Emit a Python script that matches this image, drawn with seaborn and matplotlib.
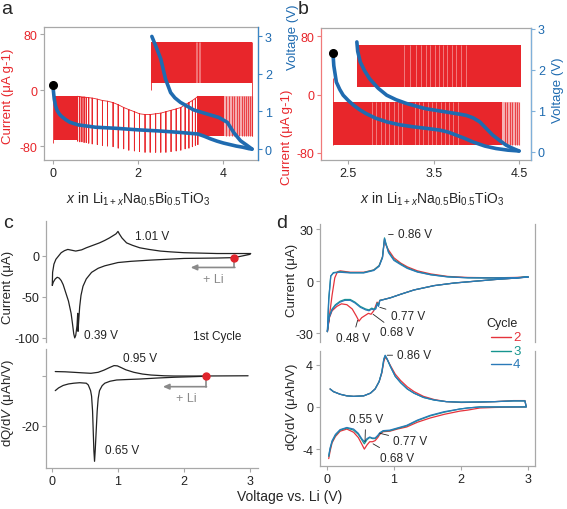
import numpy as np
import seaborn as sns
import matplotlib.pyplot as plt
from matplotlib.lines import Line2D

sns.set_style("ticks")
plt.rcParams['font.family'] = ['Liberation Sans', 'DejaVu Sans']
plt.rcParams['mathtext.fontset'] = 'custom'
plt.rcParams['mathtext.rm'] = 'Liberation Sans'
plt.rcParams['mathtext.it'] = 'Liberation Sans:italic'
plt.rcParams['font.size'] = 9
plt.rcParams['axes.unicode_minus'] = False

RED = '#e8262b'
BLUE = '#1f6bb0'
GREY = '#a8a8a8'
INK = '#222222'
CYC_COLORS = {'2': '#e5333c', '3': '#16958f', '4': '#2a7ab8'}

# ---------------- panel a data ----------------
a_vdis_x = [0, 0.01, 0.03, 0.06, 0.1, 0.15, 0.2, 0.3, 0.4, 0.6, 0.8, 1.0, 1.5, 2.0, 2.5, 3.0, 3.4, 3.55, 3.7, 3.85, 4.0, 4.15, 4.3, 4.45, 4.6, 4.67]
a_vdis_v = [1.71, 1.55, 1.33, 1.15, 1.02, 0.93, 0.87, 0.78, 0.71, 0.64, 0.61, 0.58, 0.55, 0.51, 0.48, 0.44, 0.40, 0.34, 0.27, 0.21, 0.16, 0.12, 0.08, 0.05, 0.01, 0.0]
a_vchg_x = [4.67, 4.55, 4.4, 4.24, 4.09, 3.89, 3.62, 3.3, 2.99, 2.86, 2.76, 2.64, 2.53, 2.41, 2.32]
a_vchg_v = [0.0, 0.1, 0.22, 0.44, 0.71, 0.84, 0.93, 1.04, 1.24, 1.36, 1.5, 1.86, 2.39, 2.74, 2.99]

a_pulse_x = [0.58, 0.63, 0.68, 0.73, 0.78, 0.84, 0.92, 1.04, 1.16, 1.28, 1.41, 1.53, 1.66, 1.78, 1.91,
             2.03, 2.16, 2.28, 2.41, 2.53, 2.65, 2.77, 2.89, 3.0, 3.1, 3.19, 3.27, 3.34, 3.4]
a_pulse_top = [-9, -9.5, -10, -10, -10.5, -11, -11.5, -13, -15, -16, -18, -21, -25, -28, -31,
               -34, -35, -35, -34, -33, -31, -29, -27, -25, -21, -18, -15, -12, -9]
a_pulse_bot = [-73, -74, -74, -75, -75, -76, -77, -78, -79, -80, -81, -83, -84, -86, -87,
               -88, -89, -89, -89, -89, -89, -88, -87, -86, -84, -83, -81, -79, -78]
a_dis_band1 = (0.02, 0.56, -9, -72)
a_dis_band2 = (3.4, 4.02, -9, -66)
a_tail_x = [4.07, 4.13, 4.19, 4.25, 4.31, 4.37, 4.43, 4.48, 4.53, 4.58, 4.62, 4.66]
a_chg_band = (2.3, 4.68, 10, 68)
a_chg_light_x = [3.36, 3.39, 3.42, 3.45]

# ---------------- panel b data ----------------
b_vdis_x = [2.32, 2.33, 2.36, 2.40, 2.44, 2.5, 2.56, 2.63, 2.71, 2.82, 2.95, 3.1, 3.26, 3.42, 3.57, 3.67, 3.76, 3.86, 3.96, 4.1, 4.23, 4.37, 4.5]
b_vdis_v = [2.41, 2.1, 1.7, 1.52, 1.38, 1.25, 1.14, 1.03, 0.93, 0.82, 0.73, 0.66, 0.61, 0.57, 0.53, 0.48, 0.41, 0.33, 0.24, 0.14, 0.08, 0.04, 0.02]
b_vchg_x = [4.5, 4.43, 4.35, 4.27, 4.19, 4.11, 4.04, 3.96, 3.88, 3.77, 3.65, 3.53, 3.41, 3.3, 3.18, 3.06, 2.95, 2.85, 2.75, 2.69, 2.64, 2.61, 2.6]
b_vchg_v = [0.02, 0.08, 0.16, 0.28, 0.41, 0.58, 0.73, 0.83, 0.89, 0.93, 0.97, 1.01, 1.05, 1.11, 1.18, 1.27, 1.38, 1.55, 1.78, 1.98, 2.19, 2.45, 2.68]
b_dis_band = (2.32, 4.3, -10.5, -69)
b_tail_x = [4.33, 4.36, 4.39, 4.42, 4.45, 4.48, 4.5]
b_chg_band = (2.6, 4.52, 10.5, 68)
b_dis_light_x = [2.78, 2.83, 2.88, 2.93, 2.98, 3.03, 3.08, 3.13, 3.28, 3.33, 3.38, 3.43, 3.48, 3.53,
                 3.58, 3.63, 3.68, 3.73, 3.78]
b_chg_light_x = [3.15, 3.22, 3.29, 3.35, 3.41, 3.46, 3.51, 3.56, 3.61, 3.66, 3.71, 3.76, 3.82, 3.88]

# ---------------- panel c data ----------------
c_top_v = [3.0, 2.76, 2.5, 2.0, 1.5, 1.2, 1.0, 0.8, 0.7, 0.6, 0.52, 0.47, 0.44, 0.42, 0.40, 0.395, 0.39, 0.38,
           0.36, 0.345, 0.33, 0.31, 0.29, 0.25, 0.21, 0.17, 0.14, 0.11, 0.08, 0.05, 0.02, 0.005,
           0.01, 0.03, 0.06, 0.1, 0.14, 0.19, 0.24, 0.3, 0.36, 0.45, 0.52, 0.62, 0.72, 0.8, 0.87, 0.93,
           0.97, 1.0, 1.02, 1.06, 1.13, 1.22, 1.33, 1.47, 1.64, 1.8, 2.0, 2.5, 3.01]
c_top_i = [2, -2, -2.5, -3, -5, -6.5, -8, -12, -15, -20, -28, -37, -48, -62, -85, -92, -70, -85,
           -97, -100, -95, -82, -70, -55, -45, -35, -30, -27, -26, -28, -32, -36,
           -20, -10, -4, 0, 4, 6.5, 8, 7, 6, 7.5, 10, 13, 16, 19, 22, 25,
           27, 30, 27, 22, 16, 13, 10, 8, 6, 5, 4, 3, 3]
c_bot_v_an = [0.05, 0.2, 0.33, 0.45, 0.59, 0.7, 0.79, 0.87, 0.94, 0.99, 1.04, 1.12, 1.24, 1.37, 1.5, 1.7, 1.85, 2.2, 2.6, 2.97]
c_bot_y_an = [1.9, 1.8, 1.6, 1.4, 1.2, 1.6, 2.5, 3.5, 4.3, 4.2, 3.6, 2.6, 1.6, 0.9, 0.5, 0.2, 0.1, 0.1, 0.15, 0.2]
c_bot_v_ca = [2.33, 2.1, 1.85, 1.6, 1.34, 1.15, 0.98, 0.88, 0.8, 0.76, 0.72, 0.70, 0.685, 0.67, 0.655, 0.645,
              0.635, 0.625, 0.615, 0.6, 0.585, 0.55, 0.52, 0.42, 0.33, 0.25, 0.17, 0.1, 0.05]
c_bot_y_ca = [0, -0.2, -0.4, -0.7, -1.1, -1.3, -1.5, -2.0, -2.8, -3.8, -5.8, -9, -14, -22, -30, -34.3,
              -30, -22, -14, -8, -5.8, -3.5, -2.8, -2.6, -2.8, -3.1, -3.7, -4.7, -5.8]

# ---------------- panel d data ----------------
cycles = ['2', '3', '4']
d_top_v = {
    '2': [0.01, 0.04, 0.08, 0.12, 0.16, 0.2, 0.35, 0.55, 0.7, 0.78, 0.83, 0.86, 0.88, 0.92, 1.0, 1.1, 1.2, 1.35, 1.55, 1.8, 2.1, 2.5, 2.8, 3.0,
          2.8, 2.5, 2.2, 1.9, 1.6, 1.3, 1.1, 0.95, 0.85, 0.79, 0.77, 0.75, 0.7, 0.66, 0.62, 0.58, 0.52, 0.48, 0.44, 0.38, 0.3, 0.22, 0.15, 0.08, 0.04, 0.01],
    '3': [0.01, 0.03, 0.06, 0.1, 0.2, 0.35, 0.55, 0.7, 0.78, 0.83, 0.86, 0.88, 0.92, 1.0, 1.1, 1.2, 1.35, 1.55, 1.8, 2.1, 2.5, 2.8, 3.0,
          2.8, 2.5, 2.2, 1.9, 1.6, 1.3, 1.1, 0.95, 0.85, 0.79, 0.77, 0.75, 0.73, 0.7, 0.67, 0.63, 0.58, 0.5, 0.42, 0.35, 0.27, 0.2, 0.13, 0.08, 0.04, 0.02, 0.01],
    '4': [0.01, 0.03, 0.06, 0.1, 0.2, 0.35, 0.55, 0.7, 0.78, 0.83, 0.86, 0.88, 0.92, 1.0, 1.1, 1.2, 1.35, 1.55, 1.8, 2.1, 2.5, 2.8, 3.0,
          2.8, 2.5, 2.2, 1.9, 1.6, 1.3, 1.1, 0.95, 0.85, 0.79, 0.77, 0.75, 0.73, 0.7, 0.67, 0.63, 0.58, 0.5, 0.42, 0.35, 0.27, 0.2, 0.13, 0.08, 0.04, 0.02, 0.01],
}
d_top_i = {
    '2': [-29, -20, -8, 2, 5.5, 6, 5.2, 5.2, 6.5, 9, 14, 24, 21, 18, 13.5, 10.5, 8.3, 6, 4.2, 2.8, 2.2, 2.0, 2.2, 2.5,
          1.8, 1, 0, -1, -2.5, -5, -7.5, -9.5, -10.5, -11, -13.5, -12, -17, -19, -18.5, -19.5, -21, -23, -20, -16, -13.5, -13, -14.5, -17, -21, -29],
    '3': [-29, -10, 3, 5, 5.5, 5, 5, 6.5, 9, 14, 25, 22, 17, 12.5, 10, 7.7, 5.5, 3.8, 2.6, 2, 1.9, 2, 2.5,
          1.8, 1, 0, -1, -2.5, -5, -7.5, -9.5, -10.5, -11, -14, -12.5, -15.5, -16, -15.5, -16.5, -16, -14.5, -12, -10.5, -10.5, -11.5, -13.5, -16, -20, -25, -29],
    '4': [-29, -11, 3, 4.8, 5.2, 4.8, 4.8, 6.2, 8.6, 13.5, 24.5, 21.5, 16.5, 12, 9.6, 7.4, 5.3, 3.7, 2.5, 2, 1.9, 2, 2.4,
          1.8, 1, 0, -1, -2.5, -5, -7.5, -9.5, -10.5, -11.2, -14.5, -13, -16, -16.5, -16, -17, -16.5, -15, -12.5, -11, -11, -12, -14, -16.5, -20.5, -25, -29],
}
d_bot_v = [0.05, 0.1, 0.2, 0.3, 0.4, 0.55, 0.65, 0.72, 0.78, 0.82, 0.85, 0.87, 0.9, 0.95, 1.02, 1.1, 1.2, 1.3, 1.44, 1.6, 1.78, 2.0, 2.28, 2.5, 2.78, 2.95,
           2.97, 2.5, 2.28, 2.1, 1.98, 1.75, 1.54, 1.35, 1.19, 1.05, 0.94, 0.84, 0.79, 0.76, 0.72, 0.68, 0.64, 0.6, 0.56, 0.52, 0.47, 0.4, 0.3, 0.2, 0.13, 0.08, 0.05, 0.03]
d_bot_y = {
    '2': [1.7, 1.45, 1.2, 1.05, 1.0, 1.05, 1.3, 1.7, 2.4, 3.2, 4.3, 4.7, 4.5, 3.9, 3.1, 2.5, 1.9, 1.45, 1.0, 0.7, 0.5, 0.42, 0.45, 0.5, 0.6, 0.6,
          0, -0.05, -0.1, -0.3, -0.4, -0.7, -1.05, -1.45, -1.9, -2.1, -2.3, -2.35, -2.6, -2.9, -3.2, -3.3, -3.3, -3.6, -4.0, -3.5, -2.9, -2.4, -2.1, -2.3, -2.8, -3.4, -4.2, -4.9],
    '3': [1.7, 1.45, 1.2, 1.05, 1.0, 1.05, 1.3, 1.7, 2.4, 3.3, 4.5, 4.85, 4.5, 3.8, 2.9, 2.3, 1.7, 1.3, 0.9, 0.65, 0.5, 0.45, 0.47, 0.5, 0.57, 0.57,
          0, 0, 0, -0.1, -0.2, -0.5, -0.85, -1.3, -1.8, -2.05, -2.25, -2.3, -2.5, -2.75, -3.0, -3.0, -2.9, -3.1, -3.5, -3.1, -2.6, -2.2, -2.0, -2.2, -2.7, -3.3, -4.0, -4.7],
    '4': [1.7, 1.45, 1.2, 1.05, 1.0, 1.05, 1.3, 1.7, 2.4, 3.3, 4.55, 4.9, 4.55, 3.8, 2.9, 2.3, 1.7, 1.3, 0.9, 0.65, 0.5, 0.45, 0.47, 0.5, 0.57, 0.57,
          0, 0, 0, -0.1, -0.2, -0.45, -0.8, -1.25, -1.75, -2.0, -2.2, -2.25, -2.45, -2.7, -2.95, -2.95, -2.85, -3.0, -3.3, -3.0, -2.5, -2.1, -1.95, -2.15, -2.6, -3.2, -3.9, -4.6],
}

# ---------------- figure ----------------
W, H = 567, 510
fig = plt.figure(figsize=(W / 100, H / 100), dpi=100)


def box(l, t, r, b):
    return fig.add_axes([l / W, 1 - b / H, (r - l) / W, (b - t) / H])


def ftext(x, y, s, **kw):
    fig.text(x / W, 1 - y / H, s, **kw)


def style(ax, spines, color=GREY):
    for k, s in ax.spines.items():
        s.set_visible(k in spines)
        s.set_color(color)
        s.set_linewidth(0.9)
    ax.tick_params(length=3, width=0.8, color=color, pad=2, labelsize=9, labelcolor=INK)
    ax.set_xlabel('')
    ax.set_ylabel('')


def pulses(ax, xs, tops, bots, color=RED, lw=0.6):
    px = np.repeat(xs, 3)
    py = np.column_stack([tops, bots, tops]).ravel()
    ax.plot(px, py, color=color, lw=lw)


def band(ax, spec, color=RED):
    x0, x1, top, bot = spec
    ax.fill_between([x0, x1], [top, top], [bot, bot], color=color, lw=0)


# panel a
ax_a = box(44, 28, 258, 161)
band(ax_a, a_dis_band1)
ax_a.vlines(0.0, -75, 1, color=RED, lw=0.6)
pulses(ax_a, a_pulse_x, a_pulse_top, a_pulse_bot)
band(ax_a, a_dis_band2)
ax_a.vlines(a_tail_x, -66, -9, color=RED, lw=0.8, alpha=0.8)
ax_a.fill_between([4.02, 4.66], [-9, -9], [-66, -66], color=RED, alpha=0.35, lw=0)
band(ax_a, a_chg_band)
ax_a.vlines(a_chg_light_x, 10, 68, color='white', lw=0.5, alpha=0.5)
ax_a.vlines([2.3, 4.68], [0, -66], [68, 68], color=RED, lw=0.6)
ax_a.set_xlim(-0.21, 4.81)
ax_a.set_ylim(-100, 90)
ax_a.set_xticks([0, 2, 4])
ax_a.set_yticks([-80, 0, 80])
style(ax_a, ['left', 'bottom', 'top', 'right'])
ax_a.tick_params(axis='y', labelcolor=RED, color=GREY)
ax_a2 = ax_a.twinx()
sns.lineplot(x=a_vdis_x, y=a_vdis_v, sort=False, estimator=None, color=BLUE, lw=2.6, ax=ax_a2)
sns.lineplot(x=a_vchg_x, y=a_vchg_v, sort=False, estimator=None, color=BLUE, lw=2.6, ax=ax_a2)
ax_a2.plot([a_vdis_x[0]], [a_vdis_v[0]], 'o', color='black', ms=5.5, zorder=5)
ax_a2.set_ylim(-0.29, 3.24)
ax_a2.set_yticks([0, 1, 2, 3])
style(ax_a2, ['right'], color='#3a86c6')
ax_a2.tick_params(axis='y', labelcolor=BLUE)

# panel b
ax_b = box(321, 29, 531, 161)
band(ax_b, b_dis_band)
ax_b.vlines(b_dis_light_x, -69, -10.5, color='white', lw=0.6, alpha=0.45)
ax_b.vlines(2.32, -69, 22, color=RED, lw=0.6)
ax_b.vlines(b_tail_x, -69, -10.5, color=RED, lw=0.8, alpha=0.8)
ax_b.fill_between([4.3, 4.5], [-10.5, -10.5], [-69, -69], color=RED, alpha=0.35, lw=0)
band(ax_b, b_chg_band)
ax_b.vlines(b_chg_light_x, 10.5, 68, color='white', lw=0.6, alpha=0.45)
ax_b.set_xlim(2.18, 4.64)
ax_b.set_ylim(-89.6, 91)
ax_b.set_xticks([2.5, 3.5, 4.5])
ax_b.set_xticklabels(['2.5', '3.5', '4.5'])
ax_b.set_yticks([-80, 0, 80])
style(ax_b, ['left', 'bottom', 'top', 'right'])
ax_b.spines['left'].set_color('#f07a7a')
ax_b.tick_params(axis='y', labelcolor=RED, color='#f07a7a')
ax_b2 = ax_b.twinx()
sns.lineplot(x=b_vdis_x, y=b_vdis_v, sort=False, estimator=None, color=BLUE, lw=2.6, ax=ax_b2)
sns.lineplot(x=b_vchg_x, y=b_vchg_v, sort=False, estimator=None, color=BLUE, lw=2.6, ax=ax_b2)
ax_b2.plot([b_vdis_x[0]], [b_vdis_v[0]], 'o', color='black', ms=5.5, zorder=5)
ax_b2.set_ylim(-0.2, 3.02)
ax_b2.set_yticks([0, 1, 2, 3])
style(ax_b2, ['right'], color='#7fb0da')
ax_b2.tick_params(axis='y', labelcolor=BLUE)

# panel c
ax_c1 = box(46, 222, 258, 343)
sns.lineplot(x=c_top_v, y=c_top_i, sort=False, estimator=None, color=INK, lw=0.9, ax=ax_c1)
ax_c1.plot([2.76], [-2], 'o', color='#e0242c', ms=5, zorder=5)
ax_c1.plot([2.76, 2.76], [-2, -14], color='#8a8a8a', lw=1.2)
ax_c1.annotate('', xy=(2.1, -14), xytext=(2.77, -14),
               arrowprops=dict(arrowstyle='-|>,head_length=0.4,head_width=0.18', color='#8a8a8a', lw=1.2, shrinkA=0, shrinkB=0))
ax_c1.text(2.45, -27.5, '+ Li', color='#8a8a8a', ha='center', va='center', fontsize=9)
ax_c1.text(1.51, 24, '1.01 V', ha='center', va='center', fontsize=8.5, color=INK)
ax_c1.text(0.75, -97, '0.39 V', ha='center', va='center', fontsize=8.5, color=INK)
ax_c1.text(2.5, -98, '1st Cycle', ha='center', va='center', fontsize=8.5, color=INK)
ax_c1.set_xlim(-0.09, 3.12)
ax_c1.set_ylim(-105, 42.7)
ax_c1.set_yticks([0, -50, -100])
ax_c1.set_xticks([])
style(ax_c1, ['left'])

ax_c2 = box(46, 350, 258, 469)
sns.lineplot(x=c_bot_v_an, y=c_bot_y_an, sort=False, estimator=None, color=INK, lw=0.9, ax=ax_c2)
sns.lineplot(x=c_bot_v_ca, y=c_bot_y_ca, sort=False, estimator=None, color=INK, lw=0.9, ax=ax_c2)
ax_c2.plot([2.33], [0], 'o', color='#e0242c', ms=5, zorder=5)
ax_c2.plot([2.33, 2.33], [0, -4.2], color='#8a8a8a', lw=1.2)
ax_c2.annotate('', xy=(1.68, -4.2), xytext=(2.34, -4.2),
               arrowprops=dict(arrowstyle='-|>,head_length=0.4,head_width=0.18', color='#8a8a8a', lw=1.2, shrinkA=0, shrinkB=0))
ax_c2.text(2.03, -8.6, '+ Li', color='#8a8a8a', ha='center', va='center', fontsize=9)
ax_c2.text(1.34, 7.4, '0.95 V', ha='center', va='center', fontsize=8.5, color=INK)
ax_c2.text(1.06, -29.8, '0.65 V', ha='center', va='center', fontsize=8.5, color=INK)
ax_c2.set_xlim(-0.09, 3.12)
ax_c2.set_ylim(-37, 11)
ax_c2.set_yticks([0, -20])
ax_c2.set_yticklabels(['', '-20'])
ax_c2.set_xticks([0, 1, 2, 3])
style(ax_c2, ['left', 'bottom'])

# panel d
ax_d1 = box(320, 225, 535, 343)
ax_d2 = box(320, 352, 535, 467)
for cyc in cycles:
    sns.lineplot(x=d_top_v[cyc], y=d_top_i[cyc], sort=False, estimator=None,
                 color=CYC_COLORS[cyc], lw=0.9, ax=ax_d1)
    sns.lineplot(x=d_bot_v, y=d_bot_y[cyc], sort=False, estimator=None,
                 color=CYC_COLORS[cyc], lw=0.9, ax=ax_d2)
lead = dict(arrowstyle='-', lw=0.6, color=INK, shrinkA=1, shrinkB=0)
ax_d1.annotate('0.86 V', xy=(0.92, 27), xytext=(1.06, 27), ha='left', va='center', fontsize=8.5, arrowprops=lead)
ax_d1.annotate('0.77 V', xy=(0.79, -15), xytext=(0.95, -20), ha='left', va='center', fontsize=8.5, arrowprops=lead)
ax_d1.annotate('0.68 V', xy=(0.69, -19), xytext=(0.8, -29.5), ha='left', va='center', fontsize=8.5, arrowprops=lead)
ax_d1.annotate('0.48 V', xy=(0.46, -22.5), xytext=(0.39, -32.5), ha='center', va='center', fontsize=8.5, arrowprops=lead)
ax_d2.annotate('0.86 V', xy=(0.9, 4.9), xytext=(1.05, 4.9), ha='left', va='center', fontsize=8.5, arrowprops=lead)
ax_d2.annotate('0.55 V', xy=(0.57, -3.3), xytext=(0.58, -1.15), ha='center', va='center', fontsize=8.5, arrowprops=lead)
ax_d2.annotate('0.77 V', xy=(0.79, -2.5), xytext=(0.99, -3.2), ha='left', va='center', fontsize=8.5, arrowprops=lead)
ax_d2.annotate('0.68 V', xy=(0.69, -3.5), xytext=(0.79, -4.8), ha='left', va='center', fontsize=8.5, arrowprops=lead)
ax_d1.set_xlim(-0.1, 3.1)
ax_d1.set_ylim(-35, 33)
ax_d1.set_yticks([30, 0, -30])
ax_d1.set_xticks([])
style(ax_d1, ['left', 'right'])
ax_d1.tick_params(axis='y', right=False)
ax_d2.set_xlim(-0.1, 3.1)
ax_d2.set_ylim(-5.6, 5.3)
ax_d2.set_yticks([4, 0, -4])
ax_d2.set_xticks([0, 1, 2, 3])
style(ax_d2, ['left', 'right', 'bottom'])

# hand-made cycle legend
ftext(502, 324, 'Cycle', ha='center', va='center', fontsize=9, color=INK)
for cyc, ly in zip(cycles, [338, 352, 365]):
    fig.add_artist(Line2D([491 / W, 511 / W], [1 - ly / H, 1 - ly / H], color=CYC_COLORS[cyc], lw=1.0))
    ftext(513, ly, cyc, ha='left', va='center', fontsize=9.5, color=CYC_COLORS[cyc])

# labels
ftext(7, 10, 'a', fontsize=14, ha='center', va='center')
ftext(303, 10, 'b', fontsize=14, ha='center', va='center')
ftext(8, 224, 'c', fontsize=14, ha='center', va='center')
ftext(282, 224, 'd', fontsize=14, ha='center', va='center')
ftext(8, 96, 'Current (μA g-1)', color=RED, rotation=90, ha='center', va='center', fontsize=9.5)
ftext(293, 37, 'Voltage (V)', color=BLUE, rotation=90, ha='center', va='center', fontsize=9.5)
ftext(287, 137, 'Current (μA g-1)', color=RED, rotation=90, ha='center', va='center', fontsize=9.5)
ftext(558, 90, 'Voltage (V)', color=BLUE, rotation=90, ha='center', va='center', fontsize=9.5)
xl = r'$\it{x}$ in Li$_{1+\it{x}}$Na$_{0.5}$Bi$_{0.5}$TiO$_{3}$'
ftext(138, 199, xl, ha='center', va='center', fontsize=10)
ftext(432, 199, xl, ha='center', va='center', fontsize=10)
ftext(8, 287, 'Current (μA)', rotation=90, ha='center', va='center', fontsize=9.5)
ftext(8, 403, r'dQ/d$\it{V}$ (μAh/V)', rotation=90, ha='center', va='center', fontsize=9.5)
ftext(292, 280, 'Current (μA)', rotation=90, ha='center', va='center', fontsize=9.5)
ftext(292, 407, r'dQ/d$\it{V}$ (μAh/V)', rotation=90, ha='center', va='center', fontsize=9.5)
ftext(290, 497, 'Voltage vs. Li (V)', ha='center', va='center', fontsize=10)

fig.savefig('out.png', dpi=100)
